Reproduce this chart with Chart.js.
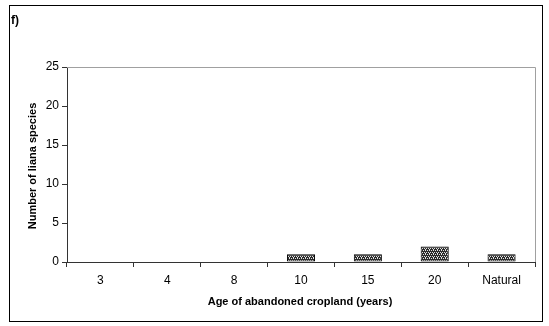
<!DOCTYPE html>
<html>
<head>
<meta charset="utf-8">
<script src="https://cdn.jsdelivr.net/npm/chart.js@4"></script>
<style>
    html, body { margin: 0; padding: 0; background: #fff; }
    #wrap { width: 549px; height: 326px; }
</style>
</head>
<body>
<div id="wrap"><canvas id="graphique" width="549" height="326"></canvas></div>
<script>
// donnees
const categories = ["3", "4", "8", "10", "15", "20", "Natural"];
const lianaSpecies = [0, 0, 0, 1, 1, 2, 1];
const yTicks = [0, 5, 10, 15, 20, 25];

const panelLabel = "f)";
const xTitle = "Age of abandoned cropland (years)";
const yTitle = "Number of liana species";

// motif de remplissage facon Excel
function makePattern() {
    const p = document.createElement("canvas");
    p.width = 4; p.height = 4;
    const c = p.getContext("2d");
    c.fillStyle = "#2b2b2b";
    c.fillRect(0, 0, 4, 4);
    c.fillStyle = "#e0e0e0";
    [[0, 0], [2, 0], [1, 2], [3, 2], [1, 1]].forEach(([x, y]) => c.fillRect(x, y, 1, 1));
    return c.createPattern(p, "repeat");
}

const cadre = {
    id: "cadre",
    beforeDraw(chart) {
        const ctx = chart.ctx;
        ctx.save();
        ctx.fillStyle = "#fff";
        ctx.fillRect(0, 0, chart.width, chart.height);
        ctx.restore();
    },
    afterDraw(chart) {
        const ctx = chart.ctx;
        const a = chart.chartArea;
        ctx.save();
        // bord exterieur
        ctx.strokeStyle = "#000";
        ctx.lineWidth = 1;
        ctx.strokeRect(9.5, 5.5, 533, 316);
        // bord gris de la zone de tracé (haut et droite)
        ctx.strokeStyle = "#a0a0a0";
        ctx.beginPath();
        ctx.moveTo(a.left, a.top + 0.5);
        ctx.lineTo(a.right + 0.5, a.top + 0.5);
        ctx.lineTo(a.right + 0.5, a.bottom);
        ctx.stroke();
        // textes
        ctx.fillStyle = "#000";
        ctx.font = "bold 12px 'Liberation Sans', Arial, sans-serif";
        ctx.textBaseline = "middle";
        ctx.textAlign = "left";
        ctx.fillText(panelLabel, 11, 21);
        ctx.font = "bold 11px 'Liberation Sans', Arial, sans-serif";
        ctx.textAlign = "center";
        ctx.fillText(xTitle, 300, 302);
        ctx.translate(33, 166);
        ctx.rotate(-Math.PI / 2);
        ctx.fillText(yTitle, 0, 0);
        ctx.restore();
    }
};

const font = { family: "'Liberation Sans', Arial, sans-serif", size: 12 };

new Chart(document.getElementById("graphique"), {
    type: "bar",
    data: {
        labels: categories,
        datasets: [{
            label: yTitle,
            data: lianaSpecies,
            backgroundColor: makePattern(),
            borderColor: "#000",
            borderWidth: 1,
            borderSkipped: false,
            barPercentage: 0.42,
            categoryPercentage: 1
        }]
    },
    options: {
        responsive: false,
        animation: false,
        devicePixelRatio: 1,
        layout: { padding: { left: 10, right: 14, top: 67, bottom: 0 } },
        plugins: {
            legend: { display: false },
            tooltip: { enabled: false }
        },
        scales: {
            x: {
                offset: true,
                grid: { display: true, offset: true, drawOnChartArea: false, tickLength: 5, color: "#333" },
                border: { color: "#333", width: 1 },
                ticks: { color: "#000", font: font, padding: 6, maxRotation: 0 },
                afterFit(scale) { scale.height = 64; }
            },
            y: {
                min: 0,
                max: 25,
                grid: { display: true, drawOnChartArea: false, tickLength: 5, color: "#333" },
                border: { color: "#333", width: 1 },
                ticks: { color: "#000", font: font, padding: 3, stepSize: 5 },
                afterBuildTicks(scale) { scale.ticks = yTicks.map(v => ({ value: v })); },
                afterFit(scale) { scale.width = 57; }
            }
        }
    },
    plugins: [cadre]
});
</script>
</body>
</html>
